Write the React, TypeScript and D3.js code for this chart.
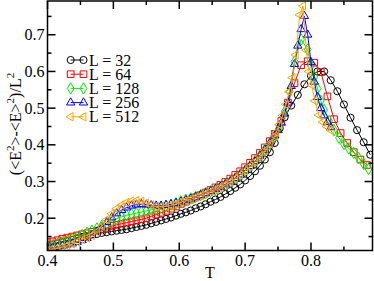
import React from "react";
import * as d3 from "d3";

// temperatures shared by all system sizes below the peak
const T_LOW = [
  0.4, 0.4075, 0.415, 0.4225, 0.43, 0.4375, 0.445, 0.4525, 0.46, 0.4675,
  0.475, 0.4825, 0.49, 0.4975, 0.505, 0.5125, 0.52, 0.5275, 0.535, 0.5425,
  0.55, 0.5575, 0.565, 0.5725, 0.58, 0.5875, 0.595, 0.6025, 0.61, 0.6175,
  0.625, 0.6325, 0.64, 0.6475, 0.655, 0.6625, 0.67, 0.6775, 0.685, 0.6925,
  0.7, 0.7075, 0.715, 0.7225, 0.73, 0.7375, 0.745,
];

const L32_LOW = [
  0.125, 0.128, 0.131, 0.134, 0.137, 0.141, 0.145, 0.149, 0.152, 0.155,
  0.157, 0.16, 0.162, 0.164, 0.166, 0.168, 0.17, 0.173, 0.176, 0.179,
  0.182, 0.186, 0.19, 0.194, 0.198, 0.202, 0.207, 0.212, 0.216, 0.221,
  0.227, 0.232, 0.238, 0.245, 0.251, 0.258, 0.266, 0.274, 0.283, 0.292,
  0.303, 0.315, 0.328, 0.343, 0.36, 0.38, 0.405,
];
const L64_LOW = [
  0.135, 0.137, 0.14, 0.144, 0.147, 0.15, 0.153, 0.156, 0.159, 0.163,
  0.166, 0.17, 0.174, 0.179, 0.182, 0.185, 0.188, 0.191, 0.194, 0.197,
  0.2, 0.205, 0.21, 0.215, 0.22, 0.226, 0.232, 0.239, 0.245, 0.251,
  0.257, 0.263, 0.27, 0.277, 0.284, 0.291, 0.299, 0.308, 0.318, 0.328,
  0.339, 0.351, 0.364, 0.378, 0.393, 0.41, 0.43,
];
const L128_LOW = [
  0.122, 0.126, 0.13, 0.134, 0.138, 0.143, 0.148, 0.154, 0.16, 0.166,
  0.172, 0.179, 0.185, 0.192, 0.199, 0.204, 0.208, 0.211, 0.214, 0.217,
  0.22, 0.223, 0.226, 0.229, 0.233, 0.237, 0.241, 0.246, 0.25, 0.254,
  0.258, 0.263, 0.268, 0.273, 0.279, 0.285, 0.292, 0.3, 0.309, 0.319,
  0.33, 0.342, 0.356, 0.371, 0.387, 0.404, 0.424,
];
const L256_LOW = [
  0.118, 0.12, 0.122, 0.125, 0.128, 0.131, 0.135, 0.14, 0.146, 0.154,
  0.163, 0.175, 0.189, 0.202, 0.213, 0.222, 0.229, 0.234, 0.237, 0.238,
  0.237, 0.235, 0.234, 0.234, 0.236, 0.238, 0.241, 0.245, 0.249, 0.253,
  0.258, 0.263, 0.268, 0.273, 0.279, 0.285, 0.292, 0.3, 0.309, 0.319,
  0.33, 0.342, 0.355, 0.37, 0.386, 0.404, 0.425,
];
const L512_LOW = [
  0.113, 0.115, 0.118, 0.121, 0.125, 0.13, 0.136, 0.142, 0.147, 0.153,
  0.163, 0.178, 0.196, 0.212, 0.226, 0.236, 0.243, 0.247, 0.248, 0.246,
  0.241, 0.236, 0.232, 0.231, 0.232, 0.235, 0.239, 0.244, 0.248, 0.252,
  0.257, 0.262, 0.267, 0.272, 0.278, 0.284, 0.291, 0.299, 0.308, 0.318,
  0.329, 0.341, 0.354, 0.369, 0.385, 0.403, 0.424,
];

// around and above the peak each size was sampled differently
const L32_HI_T = [0.7525, 0.76, 0.77, 0.78, 0.79, 0.8, 0.81, 0.82, 0.83, 0.84, 0.85, 0.86, 0.87, 0.88, 0.89];
const L32_HI = [0.445, 0.475, 0.507, 0.536, 0.565, 0.588, 0.6, 0.6, 0.576, 0.546, 0.51, 0.474, 0.44, 0.407, 0.373];
const L64_HI_T = [0.755, 0.765, 0.775, 0.785, 0.795, 0.805, 0.815, 0.825, 0.835, 0.845, 0.855, 0.865, 0.875, 0.885];
const L64_HI = [0.465, 0.515, 0.568, 0.617, 0.628, 0.624, 0.598, 0.532, 0.47, 0.432, 0.405, 0.38, 0.36, 0.345];
const L128_HI_T = [0.7525, 0.76, 0.7675, 0.775, 0.785, 0.795, 0.8, 0.805, 0.81, 0.815, 0.82, 0.8275, 0.835, 0.8425, 0.85, 0.8575, 0.865, 0.8725, 0.88, 0.8875];
const L128_HI = [0.45, 0.49, 0.545, 0.627, 0.687, 0.66, 0.615, 0.585, 0.553, 0.52, 0.495, 0.465, 0.44, 0.419, 0.402, 0.39, 0.378, 0.364, 0.348, 0.334];
const L256_HI_T = [0.75, 0.755, 0.76, 0.765, 0.77, 0.775, 0.78, 0.785, 0.79, 0.795, 0.8, 0.805, 0.81, 0.815, 0.82, 0.825, 0.83];
const L256_HI = [0.44, 0.46, 0.485, 0.515, 0.56, 0.62, 0.67, 0.715, 0.751, 0.7, 0.625, 0.572, 0.53, 0.5, 0.48, 0.462, 0.448];
const L512_HI_T = [0.7475, 0.752, 0.757, 0.762, 0.767, 0.772, 0.777, 0.783, 0.788, 0.793, 0.797, 0.801, 0.806, 0.812, 0.818, 0.824, 0.83];
const L512_HI = [0.435, 0.455, 0.48, 0.51, 0.545, 0.583, 0.645, 0.754, 0.778, 0.658, 0.6, 0.563, 0.52, 0.481, 0.462, 0.45, 0.44];

const X_MAJOR = [0.4, 0.5, 0.6, 0.7, 0.8];
const X_MINOR = [0.45, 0.55, 0.65, 0.75, 0.85];
const Y_MAJOR = [0.2, 0.3, 0.4, 0.5, 0.6, 0.7];
const Y_MINOR = [0.15, 0.25, 0.35, 0.45, 0.55, 0.65, 0.75];

const W = 374;
const H = 281;
const txt = { fontFamily: "Liberation Serif, Times New Roman, Times, DejaVu Serif, serif" };

const series = [
  { label: "L = 32", color: "#000000", symbol: d3.symbolCircle, size: 40, rot: 0, t: [...T_LOW, ...L32_HI_T], v: [...L32_LOW, ...L32_HI] },
  { label: "L = 64", color: "#ff0000", symbol: d3.symbolSquare, size: 44, rot: 0, t: [...T_LOW, ...L64_HI_T], v: [...L64_LOW, ...L64_HI] },
  { label: "L = 128", color: "#00ee00", symbol: d3.symbolDiamond, size: 38, rot: 0, t: [...T_LOW, ...L128_HI_T], v: [...L128_LOW, ...L128_HI] },
  { label: "L = 256", color: "#0000ff", symbol: d3.symbolTriangle, size: 30, rot: 0, t: [...T_LOW, ...L256_HI_T], v: [...L256_LOW, ...L256_HI] },
  { label: "L = 512", color: "#ffa500", symbol: d3.symbolTriangle, size: 30, rot: -90, t: [...T_LOW, ...L512_HI_T], v: [...L512_LOW, ...L512_HI] },
];

export default function App() {
  const x = d3.scaleLinear().domain([0.4, 0.8934]).range([47.5, 372.5]);
  const y = d3.scaleLinear().domain([0.112, 0.792]).range([250.5, 1]);
  const [x0, x1] = x.range();
  const [y0, y1] = y.range();

  const line = d3.line<[number, number]>()
    .x((d) => x(d[0]))
    .y((d) => y(d[1]));

  const tick = "#000";
  const big = 8;
  const small = 4;

  return (
    <div style={{ position: "absolute", left: 0, top: 0 }}>
      <svg width={W} height={H} style={{ display: "block", background: "#fff" }}>
        <defs>
          <clipPath id="plot">
            <rect x={x0} y={y1} width={x1 - x0} height={y0 - y1} />
          </clipPath>
        </defs>

        {/* data */}
        <g clipPath="url(#plot)">
          {series.map((s) => {
            const pts = s.t.map((t, i) => [t, s.v[i]] as [number, number]);
            const sym = d3.symbol().type(s.symbol).size(s.size)();
            return (
              <g key={s.label}>
                <path d={line(pts) || ""} fill="none" stroke={s.color} strokeWidth={1} />
                {pts.map((p, i) => (
                  <path
                    key={i}
                    d={sym || ""}
                    transform={`translate(${x(p[0])},${y(p[1])}) rotate(${s.rot})`}
                    fill="none"
                    stroke={s.color}
                    strokeWidth={1}
                  />
                ))}
              </g>
            );
          })}
        </g>

        {/* frame and ticks */}
        <rect x={x0} y={y1} width={x1 - x0} height={y0 - y1} fill="none" stroke={tick} strokeWidth={1.5} />
        {X_MAJOR.map((t) => (
          <g key={"xM" + t}>
            <line x1={x(t)} x2={x(t)} y1={y0} y2={y0 - big} stroke={tick} strokeWidth={1.5} />
            <line x1={x(t)} x2={x(t)} y1={y1} y2={y1 + big} stroke={tick} strokeWidth={1.5} />
            <text x={x(t)} y={266} textAnchor="middle" fontSize={16} style={txt}>{t.toFixed(1)}</text>
          </g>
        ))}
        {X_MINOR.map((t) => (
          <g key={"xm" + t}>
            <line x1={x(t)} x2={x(t)} y1={y0} y2={y0 - small} stroke={tick} strokeWidth={1.5} />
            <line x1={x(t)} x2={x(t)} y1={y1} y2={y1 + small} stroke={tick} strokeWidth={1.5} />
          </g>
        ))}
        {Y_MAJOR.map((v) => (
          <g key={"yM" + v}>
            <line x1={x0} x2={x0 + big} y1={y(v)} y2={y(v)} stroke={tick} strokeWidth={1.5} />
            <line x1={x1} x2={x1 - big} y1={y(v)} y2={y(v)} stroke={tick} strokeWidth={1.5} />
            <text x={44.5} y={y(v) + 5.5} textAnchor="end" fontSize={16} style={txt}>{v.toFixed(1)}</text>
          </g>
        ))}
        {Y_MINOR.map((v) => (
          <g key={"ym" + v}>
            <line x1={x0} x2={x0 + small} y1={y(v)} y2={y(v)} stroke={tick} strokeWidth={1.5} />
            <line x1={x1} x2={x1 - small} y1={y(v)} y2={y(v)} stroke={tick} strokeWidth={1.5} />
          </g>
        ))}

        {/* axis titles */}
        <text x={(x0 + x1) / 2} y={278} textAnchor="middle" fontSize={16} style={txt}>T</text>
        <text transform="translate(21,124) rotate(-90)" textAnchor="middle" fontSize={16} style={txt}>
          {"(<E"}
          <tspan dy={-7} fontSize={11}>2</tspan>
          <tspan dy={7}>{">-<E>"}</tspan>
          <tspan dy={-7} fontSize={11}>2</tspan>
          <tspan dy={7}>{")/L"}</tspan>
          <tspan dy={-7} fontSize={11}>2</tspan>
        </text>

        {/* legend */}
        {series.map((s, i) => {
          const cy = 60 + i * 14.2;
          const sym = d3.symbol().type(s.symbol).size(s.size)();
          return (
            <g key={"leg" + s.label}>
              <line x1={70.7} x2={83.5} y1={cy} y2={cy} stroke={s.color} strokeWidth={1} />
              {[70.7, 83.5].map((mx) => (
                <path
                  key={mx}
                  d={sym || ""}
                  transform={`translate(${mx},${cy}) rotate(${s.rot})`}
                  fill="none"
                  stroke={s.color}
                  strokeWidth={1}
                />
              ))}
              <text x={89} y={cy + 5.5} fontSize={16} style={txt}>{s.label}</text>
            </g>
          );
        })}
      </svg>
    </div>
  );
}
